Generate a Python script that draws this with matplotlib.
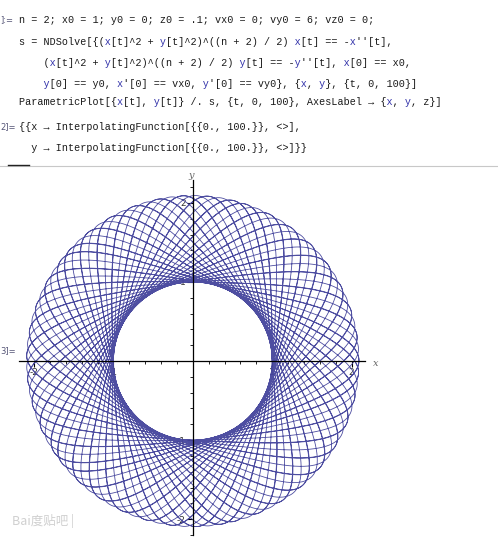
import numpy as np
import matplotlib
matplotlib.use("Agg")
import matplotlib.pyplot as plt
from matplotlib.ticker import MultipleLocator, FixedLocator

# ---- parameters of the notebook (the data) ----
n = 2
x0 = 1.0
y0 = 0.0
vx0 = 0.0
vy0 = 6.0
t_start = 0.0
t_end = 100.0

major_ticks = [-2, -1, 1, 2]
major_labels = ["-2", "-1", "1", "2"]

code_lines = [
    "n = 2; x0 = 1; y0 = 0; z0 = .1; vx0 = 0; vy0 = 6; vz0 = 0;",
    "s = NDSolve[{(x[t]^2 + y[t]^2)^((n + 2) / 2) x[t] == -x''[t],",
    "    (x[t]^2 + y[t]^2)^((n + 2) / 2) y[t] == -y''[t], x[0] == x0,",
    "    y[0] == y0, x'[0] == vx0, y'[0] == vy0}, {x, y}, {t, 0, 100}]",
    "ParametricPlot[{x[t], y[t]} /. s, {t, 0, 100}, AxesLabel \u2192 {x, y, z}]",
]
out_lines = [
    "{{x \u2192 InterpolatingFunction[{{0., 100.}}, <>],",
    "  y \u2192 InterpolatingFunction[{{0., 100.}}, <>]}}",
]


# ---- solve the ODE of the notebook (RK4) ----
def accel(x, y):
    r2 = x * x + y * y
    f = r2 ** ((n + 2) / 2.0)
    return -f * x, -f * y


def solve(dt=0.0005):
    steps = int(round((t_end - t_start) / dt))
    xs = np.empty(steps + 1)
    ys = np.empty(steps + 1)
    x, y, vx, vy = x0, y0, vx0, vy0
    xs[0], ys[0] = x, y
    for i in range(steps):
        a1x, a1y = accel(x, y)
        k1x, k1y, k1vx, k1vy = vx, vy, a1x, a1y
        xm, ym = x + 0.5 * dt * k1x, y + 0.5 * dt * k1y
        k2x, k2y = vx + 0.5 * dt * k1vx, vy + 0.5 * dt * k1vy
        k2vx, k2vy = accel(xm, ym)
        xm, ym = x + 0.5 * dt * k2x, y + 0.5 * dt * k2y
        k3x, k3y = vx + 0.5 * dt * k2vx, vy + 0.5 * dt * k2vy
        k3vx, k3vy = accel(xm, ym)
        xm, ym = x + dt * k3x, y + dt * k3y
        k4x, k4y = vx + dt * k3vx, vy + dt * k3vy
        k4vx, k4vy = accel(xm, ym)
        x += dt / 6.0 * (k1x + 2 * k2x + 2 * k3x + k4x)
        y += dt / 6.0 * (k1y + 2 * k2y + 2 * k3y + k4y)
        vx += dt / 6.0 * (k1vx + 2 * k2vx + 2 * k3vx + k4vx)
        vy += dt / 6.0 * (k1vy + 2 * k2vy + 2 * k3vy + k4vy)
        xs[i + 1], ys[i + 1] = x, y
    return xs, ys


xs, ys = solve()

W, H = 498, 541
fig = plt.figure(figsize=(W / 100, H / 100), dpi=100)
fig.patch.set_facecolor("white")

MONO = "Liberation Mono"
FS = 7.3
BLUE = "#3333aa"


def px(xp, yp):
    return xp / W, 1 - yp / H


def code_text(xp, yp, s):
    # black part and blue part (x / y symbols), overlaid with a monospace font
    blk = list(s)
    blu = [" "] * len(s)
    for i, ch in enumerate(s):
        if ch in "xy":
            prev = s[i - 1] if i > 0 else " "
            nxt = s[i + 1] if i + 1 < len(s) else " "
            if not prev.isalnum() and nxt in "[',}":
                blu[i] = ch
                blk[i] = " "
    fig.text(*px(xp, yp), "".join(blk), family=MONO, fontsize=FS,
             color="#1a1a1a", va="center", ha="left")
    fig.text(*px(xp, yp), "".join(blu), family=MONO, fontsize=FS,
             color=BLUE, va="center", ha="left")


# cell labels
fig.text(*px(0, 20), "]:=", family="DejaVu Sans", fontsize=6, color="#555577",
         va="center", ha="left")
fig.text(*px(0, 127), "2]=", family="DejaVu Sans", fontsize=6, color="#555577",
         va="center", ha="left")
fig.text(*px(0, 351), "3]=", family="DejaVu Sans", fontsize=6, color="#555577",
         va="center", ha="left")

code_y = [20, 42, 63, 84, 102]
for yp, s in zip(code_y, code_lines):
    code_text(19, yp, s)
out_y = [127, 148]
for yp, s in zip(out_y, out_lines):
    code_text(19, yp, s)

# separator line
fig.add_artist(plt.Line2D([0, 1], [1 - 165.5 / H] * 2, color="#c8c8c8", lw=0.8))
fig.add_artist(plt.Line2D([8 / W, 29 / W], [1 - 164.5 / H] * 2, color="#222222", lw=1.0))

# ---- plot axes ----
ax = fig.add_axes([19 / W, 1 - 535 / H, (365 - 19) / W, (535 - 180) / H])
ax.set_facecolor("none")
ax.plot(xs, ys, color="#44449c", lw=0.6, alpha=0.95, solid_joinstyle="round")
ax.set_xlim(-2.19, 2.17)
ax.set_ylim(-2.2, 2.29)
for side in ["top", "right"]:
    ax.spines[side].set_visible(False)
ax.spines["left"].set_position(("data", 0))
ax.spines["bottom"].set_position(("data", 0))
ax.spines["left"].set_linewidth(0.9)
ax.spines["bottom"].set_linewidth(0.9)
ax.spines["left"].set_zorder(3)
ax.spines["bottom"].set_zorder(3)

ax.xaxis.set_major_locator(FixedLocator(major_ticks))
ax.yaxis.set_major_locator(FixedLocator(major_ticks))
ax.set_xticklabels(major_labels)
ax.set_yticklabels(major_labels)
ax.xaxis.set_minor_locator(MultipleLocator(0.2))
ax.yaxis.set_minor_locator(MultipleLocator(0.2))
ax.tick_params(which="major", direction="out", length=4, width=0.8,
               labelsize=6.5, labelcolor="#333333", pad=1)
ax.tick_params(which="minor", direction="out", length=2, width=0.6)

# axis labels
fig.text(*px(376, 363), "x", family="DejaVu Serif", style="italic",
         fontsize=7, color="#666666", va="center", ha="center")
fig.text(*px(191, 176), "y", family="DejaVu Serif", style="italic",
         fontsize=7, color="#666666", va="center", ha="center")

# watermark
fig.text(*px(12, 521), "Bai\u5ea6\u8d34\u5427 |", family=["Noto Sans CJK SC", "DejaVu Sans"],
         fontsize=9, color="#d0d0d0", va="center", ha="left")

fig.savefig("out.png", dpi=100, facecolor="white")
